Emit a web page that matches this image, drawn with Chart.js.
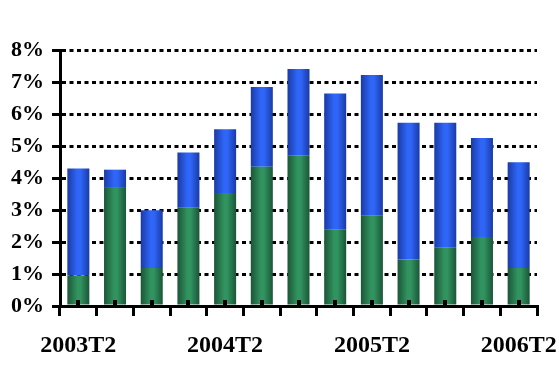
<!DOCTYPE html>
<html>
<head>
<meta charset="utf-8">
<script src="https://cdn.jsdelivr.net/npm/chart.js@4"></script>
<style>
  html, body { margin: 0; padding: 0; background: #fff; }
  #wrap { width: 559px; height: 368px; }
</style>
</head>
<body>
<div id="wrap"><canvas id="chart" width="559" height="368"></canvas></div>
<script>
const quarters = ["2003T2", "2003T3", "2003T4", "2004T1", "2004T2", "2004T3", "2004T4",
  "2005T1", "2005T2", "2005T3", "2005T4", "2006T1", "2006T2"];
const greenPart = [0.95, 3.69, 1.19, 3.07, 3.53, 4.35, 4.71, 2.38, 2.82, 1.45, 1.82, 2.16, 1.19];
const bluePart = [3.35, 0.57, 1.80, 1.73, 1.99, 2.49, 2.70, 4.26, 4.40, 4.28, 3.91, 3.09, 3.30];
const yTicks = [0, 1, 2, 3, 4, 5, 6, 7, 8];

const FONT = "'Liberation Serif', 'Times New Roman', serif";

// horizontal shading across each bar, darker at the sides
const shaded = (edge, mid) => (ctx) => {
  const chart = ctx.chart;
  const x = chart.scales && chart.scales.x;
  if (!x || ctx.dataIndex === undefined) return mid;
  const cx = x.getPixelForValue(ctx.dataIndex);
  const half = x.width / quarters.length * 0.6 / 2;
  if (!isFinite(cx) || !isFinite(half) || half <= 0) return mid;
  const g = chart.ctx.createLinearGradient(cx - half, 0, cx + half, 0);
  g.addColorStop(0, edge);
  g.addColorStop(0.45, mid);
  g.addColorStop(0.6, mid);
  g.addColorStop(1, edge);
  return g;
};

new Chart(document.getElementById("chart"), {
  type: "bar",
  data: {
    labels: quarters,
    datasets: [
      { label: "green", data: greenPart, backgroundColor: shaded("#1b5537", "#31935f"),
        borderWidth: 0, barPercentage: 0.6, categoryPercentage: 1, xAxisID: "x" },
      { label: "blue", data: bluePart, backgroundColor: shaded("#1a3aa6", "#2f66f8"),
        borderWidth: 0, barPercentage: 0.6, categoryPercentage: 1, xAxisID: "x" },
    ],
  },
  options: {
    responsive: false,
    animation: false,
    layout: { padding: { left: 0, right: 22, top: 50, bottom: 0 } },
    plugins: { legend: { display: false }, tooltip: { enabled: false } },
    scales: {
      x: {
        stacked: true,
        offset: true,
        grid: {
          offset: true,
          drawOnChartArea: false,
          drawTicks: true,
          tickLength: 10,
          tickWidth: 3,
          tickColor: "#000",
          color: "#000",
          lineWidth: 3,
        },
        border: { display: true, color: "#000", width: 3 },
        ticks: {
          autoSkip: false,
          maxRotation: 0,
          padding: 15,
          color: "#000",
          font: { family: FONT, size: 24, weight: "bold" },
          callback: (v, i) => (i % 4 === 0 ? quarters[i] : ""),
        },
        afterFit: (s) => { s.height = 62; s.paddingRight = 0; s.paddingLeft = 0; },
      },
      // short marks at the bar centres, pointing up into the plot
      x2: {
        type: "category",
        labels: quarters,
        position: "bottom",
        weight: -1,
        offset: true,
        grid: {
          z: 1,
          offset: false,
          drawOnChartArea: false,
          drawTicks: true,
          tickLength: -6,
          tickWidth: 4,
          tickColor: "#000",
          color: "#000",
          lineWidth: 4,
        },
        border: { display: false },
        ticks: { display: false },
        afterFit: (s) => { s.height = 0; s.paddingRight = 0; s.paddingLeft = 0; },
      },
      y: {
        stacked: true,
        min: 0,
        max: 8,
        afterBuildTicks: (s) => { s.ticks = yTicks.map((v) => ({ value: v })); },
        grid: {
          color: "#000",
          lineWidth: 3,
          drawTicks: true,
          tickLength: 8,
          tickWidth: 3,
          tickColor: "#000",
          tickBorderDash: [],
        },
        border: { display: true, color: "#000", width: 3, dash: [4, 3.5] },
        ticks: {
          padding: 8,
          color: "#000",
          font: { family: FONT, size: 22, weight: "bold" },
          callback: (v) => v + "%",
        },
        afterFit: (s) => { s.width = 60; },
      },
    },
  },
});
</script>
</body>
</html>
